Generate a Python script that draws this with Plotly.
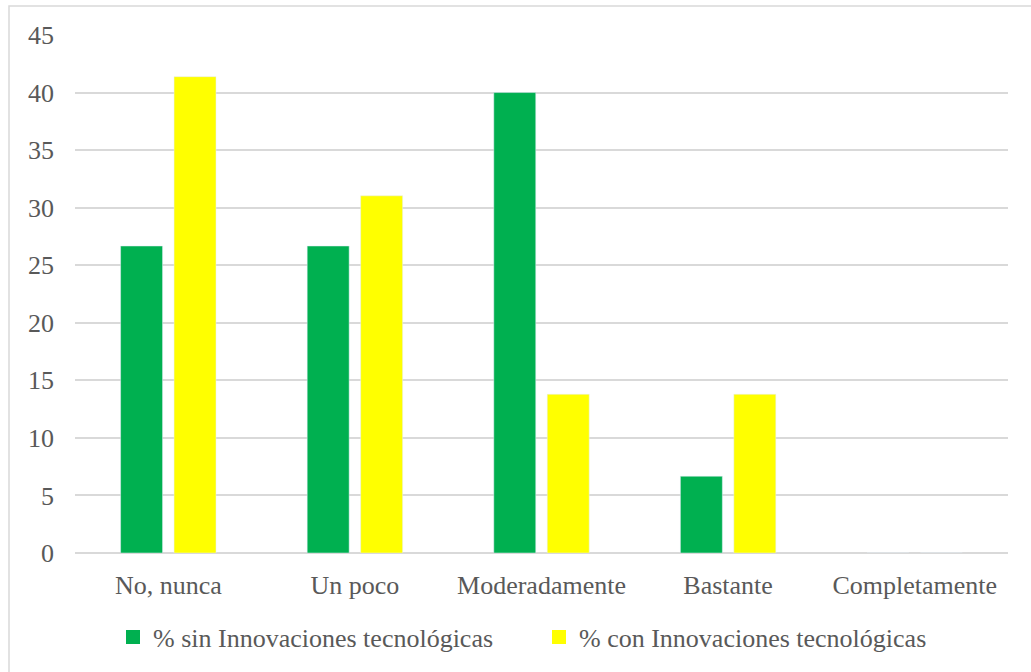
import plotly.graph_objects as go

categories = ["No, nunca", "Un poco", "Moderadamente", "Bastante", "Completamente"]
sin_innov = [26.67, 26.67, 40.0, 6.67, 0.0]
con_innov = [41.38, 31.03, 13.79, 13.79, 0.0]
series_names = ["% sin Innovaciones tecnológicas", "% con Innovaciones tecnológicas"]
colors = ["#00B050", "#FFFF00"]
y_ticks = [0, 5, 10, 15, 20, 25, 30, 35, 40, 45]

FONT = "Liberation Serif"
TXT = "#595959"
GRID = "#d9d9d9"
FS = 26

fig = go.Figure()
for name, vals, col in zip(series_names, [sin_innov, con_innov], colors):
    fig.add_trace(go.Bar(name=name, x=categories, y=vals, marker_color=col, showlegend=False))
for name, col in zip(series_names, colors):
    fig.add_trace(go.Scatter(name=name, x=[None], y=[None], mode="markers",
                             marker=dict(symbol="square", size=14, color=col), showlegend=True))

W, H = 1031, 672
L, R, T, B = 75, 23, 35, 119
pw, ph = W - L - R, H - T - B

fig.update_layout(
    width=W, height=H,
    margin=dict(l=L, r=R, t=T, b=B),
    paper_bgcolor="white", plot_bgcolor="white",
    barmode="group", bargap=0.427, bargroupgap=0.215,
    font=dict(family=FONT, size=FS, color=TXT),
    showlegend=True,
    legend=dict(orientation="h", x=(539 - L) / pw, xanchor="center",
                y=(H - B - 637) / ph, yanchor="middle",
                font=dict(family=FONT, size=FS, color=TXT),
                entrywidth=381, entrywidthmode="pixels",
                bgcolor="rgba(0,0,0,0)"),
    xaxis=dict(showgrid=False, showline=False, zeroline=False, ticks="",
               tickfont=dict(family=FONT, size=FS, color=TXT), ticklabelstandoff=14),
    yaxis=dict(range=[0, 45], tickvals=y_ticks, showgrid=True, gridcolor=GRID, gridwidth=1.5,
               zeroline=True, zerolinecolor=GRID, zerolinewidth=1.5, showline=False, ticks="",
               tickfont=dict(family=FONT, size=FS, color=TXT), ticklabelstandoff=20),
    shapes=[dict(type="rect", xref="paper", yref="paper",
                 x0=(9 - L) / pw, x1=(W + 20 - L) / pw,
                 y0=(H - B - (H + 20)) / ph, y1=(H - B - 6) / ph,
                 line=dict(color=GRID, width=1.5), fillcolor="rgba(0,0,0,0)", layer="below")],
)

fig.write_html("out.html")
